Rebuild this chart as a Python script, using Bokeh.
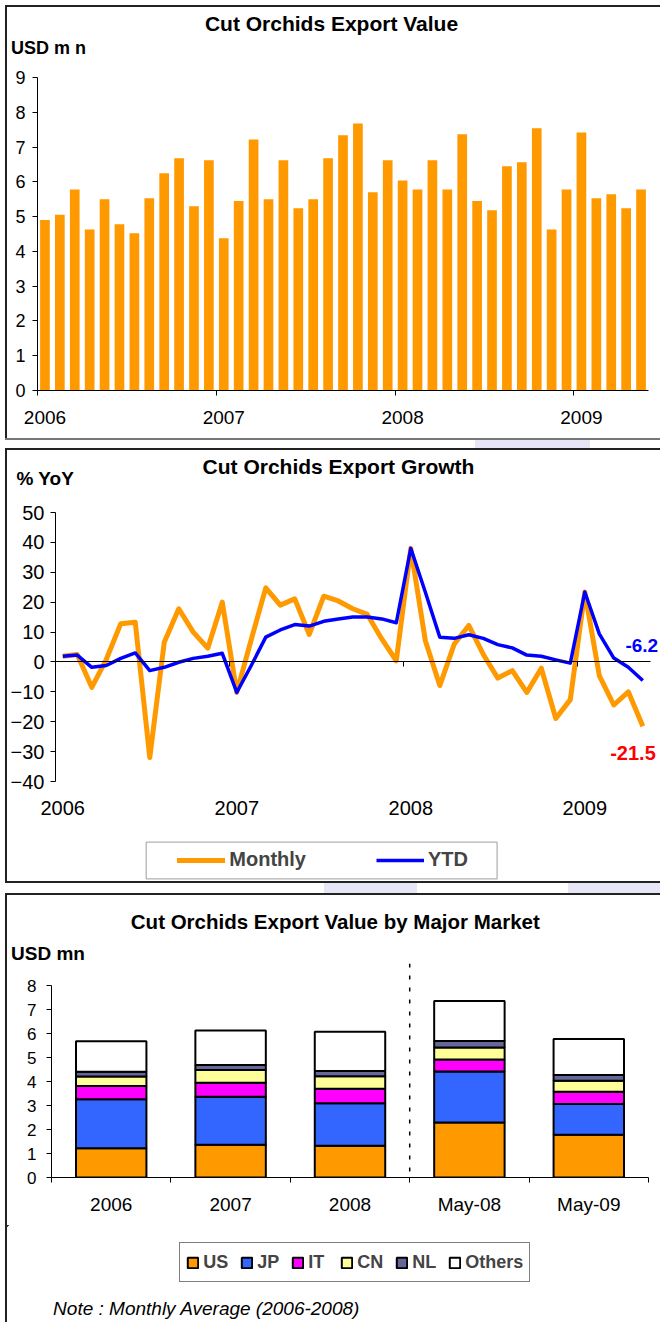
from bokeh.plotting import figure
from bokeh.layouts import column, row
from bokeh.models import (ColumnDataSource, LinearAxis, FixedTicker, SingleIntervalTicker,
                          Label, BoxAnnotation, Span, Legend, LegendItem, Range1d, Spacer)
from bokeh.embed import file_html
from bokeh.resources import INLINE

FONT = "Liberation Sans"
IW = 653          # inner width of every panel (inside the left border)

# ---------------- data ----------------
years = ["2006", "2007", "2008", "2009"]
months_per_year = [12, 12, 12, 5]

export_value = [4.90, 5.05, 5.78, 4.63, 5.50, 4.78, 4.52, 5.53, 6.25, 6.68, 5.30, 6.62,
                4.38, 5.45, 7.22, 5.50, 6.62, 5.24, 5.50, 6.68, 7.34, 7.68, 5.70, 6.62,
                6.04, 5.78, 6.62, 5.78, 7.37, 5.45, 5.18, 6.45, 6.56, 7.54, 4.63, 5.78,
                7.42, 5.53, 5.64, 5.24, 5.78]

growth_monthly = [1.9, 2.5, -8.5, 0.8, 12.8, 13.3, -32.0, 6.6, 17.8, 10.0, 4.6, 20.0,
                  -10.2, 7.5, 24.8, 19.0, 21.1, 9.2, 22.0, 20.4, 17.8, 15.9, 7.7, 0.4,
                  38.0, 7.2, -7.9, 6.0, 12.2, 2.5, -5.4, -2.9, -10.2, -2.1, -18.9, -12.6,
                  23.4, -4.6, -14.4, -10.0, -21.5]
growth_ytd = [1.9, 2.3, -1.8, -1.2, 1.2, 3.0, -2.9, -1.8, -0.1, 1.2, 1.9, 2.9,
              -10.2, -1.2, 8.3, 10.7, 12.5, 12.0, 13.6, 14.4, 15.0, 15.0, 14.4, 13.1,
              38.0, 23.4, 8.3, 7.9, 9.1, 7.9, 5.8, 4.7, 2.3, 1.9, 0.7, -0.4,
              23.4, 9.4, 1.3, -1.8, -6.2]

periods = ["2006", "2007", "2008", "May-08", "May-09"]
markets = ["US", "JP", "IT", "CN", "NL", "Others"]
us = [1.22, 1.37, 1.32, 2.30, 1.78]
jp = [2.05, 2.00, 1.78, 2.12, 1.29]
it = [0.55, 0.58, 0.60, 0.50, 0.51]
cn = [0.39, 0.54, 0.52, 0.50, 0.46]
nl = [0.20, 0.20, 0.22, 0.28, 0.24]
others = [1.28, 1.44, 1.64, 1.67, 1.50]
market_colors = ["#FF9900", "#3366FF", "#FF00FF", "#FFFF99", "#666699", "#FFFFFF"]

ORANGE = "#FF9900"
BLUE = "#0000FF"
WATERMARK = "#E6E6F6"

# derived positions
n_months = sum(months_per_year)
month_x = list(range(n_months))
jan_x = []
acc = 0
for m in months_per_year:
    jan_x.append(acc)
    acc += m
year_bounds = [j - 0.5 for j in jan_x]


# ---------------- helpers ----------------
def no_align(p):
    try:
        p.frame_align = False
    except Exception:
        pass


def text_fig(height):
    """A figure whose frame is the whole canvas; data units == pixels (y downward)."""
    p = figure(width=IW, height=height, x_range=Range1d(0, IW), y_range=Range1d(height, 0),
               x_axis_type=None, y_axis_type=None, toolbar_location=None,
               output_backend="svg", min_border=0)
    p.min_border_left = p.min_border_right = p.min_border_top = p.min_border_bottom = 0
    p.outline_line_color = None
    p.grid.visible = False
    p.background_fill_color = "white"
    p.border_fill_color = "white"
    no_align(p)
    return p


def label(p, x, y, s, size, color="black", style="bold", align="left"):
    p.add_layout(Label(x=x, y=y, text=s, text_font=FONT, text_font_size=size,
                       text_font_style=style, text_color=color, text_align=align,
                       text_baseline="middle"))


def chart_fig(height, x0, x1, y0, y1, left, right, top, bottom):
    p = figure(width=IW, height=height, x_range=Range1d(x0, x1), y_range=Range1d(y0, y1),
               x_axis_type=None, toolbar_location=None, output_backend="svg",
               min_border_left=left, min_border_right=right,
               min_border_top=top, min_border_bottom=bottom)
    p.outline_line_color = None
    p.ygrid.grid_line_color = None
    p.background_fill_color = "white"
    p.border_fill_color = "white"
    no_align(p)
    return p


def style_y(p, interval, size, standoff=10, bounds=None):
    ya = p.yaxis[0]
    ya.ticker = SingleIntervalTicker(interval=interval, num_minor_ticks=0)
    ya.major_tick_out = 5
    ya.major_tick_in = 0
    ya.minor_tick_line_color = None
    ya.axis_line_color = "black"
    ya.major_tick_line_color = "black"
    ya.major_label_text_font = FONT
    ya.major_label_text_font_size = size
    ya.major_label_text_color = "black"
    ya.major_label_standoff = standoff
    if bounds is not None:
        ya.bounds = bounds


def label_axis(p, label_ticks, labels, bound_ticks, standoff, size, line=True):
    ax = LinearAxis(ticker=FixedTicker(ticks=label_ticks,
                                       minor_ticks=bound_ticks if line else []),
                    major_label_overrides={t: l for t, l in zip(label_ticks, labels)},
                    axis_line_color="black" if line else None,
                    major_tick_line_color=None, major_tick_out=0, major_tick_in=0,
                    minor_tick_line_color="black" if line else None,
                    minor_tick_out=5, minor_tick_in=0,
                    major_label_standoff=standoff, major_label_text_font=FONT,
                    major_label_text_font_size=size, major_label_text_color="black")
    p.add_layout(ax, "below")


def border(w, h, color="#222222"):
    return Spacer(width=w, height=h, styles={"background-color": color})


def framed(content, h, bottom=True, bottom_color="#222222"):
    parts = [row(Spacer(width=5, height=2), border(655, 2)),
             row(Spacer(width=5, height=h), border(2, h), content)]
    if bottom:
        parts.append(row(Spacer(width=5, height=2), border(655, 2, bottom_color)))
    return parts


def gap(h, spans):
    """Gap row between panels, showing bits of the faint background watermark."""
    kids, x = [], 0
    for a, b in spans:
        kids.append(Spacer(width=a - x, height=h))
        kids.append(border(b - a, h, WATERMARK))
        x = b
    if x < 660:
        kids.append(Spacer(width=660 - x, height=h))
    return row(*kids)


# ---------------- panel 1 ----------------
h1 = text_fig(55)
label(h1, 324, 16, "Cut Orchids Export Value", "21px", align="center")
label(h1, 3.5, 40.5, "USD m n", "18px")

c1 = chart_fig(376, -0.5, n_months - 0.5, 0, 9, 30, 12, 15, 48)
c1.vbar(x=month_x, top=export_value, width=0.65, color=ORANGE, line_color=None)
style_y(c1, 1, "18px", standoff=7)
label_axis(c1, jan_x, years, year_bounds, 15, "19px")

# ---------------- panel 2 ----------------
h2 = text_fig(50)
label(h2, 331, 16, "Cut Orchids Export Growth", "21px", align="center")
label(h2, 9, 28, "% YoY", "19px")

c2 = chart_fig(335, -0.5, 41.22, -40, 50, 48, 0, 12, 54)
c2.line(month_x, growth_monthly, line_color=ORANGE, line_width=5, line_join="round")
c2.line(month_x, growth_ytd, line_color=BLUE, line_width=3.5, line_join="round")
style_y(c2, 10, "20px", standoff=6)
label_axis(c2, jan_x, years, year_bounds, 19, "20px", line=False)
zero_axis = LinearAxis(ticker=FixedTicker(ticks=year_bounds), fixed_location=0,
                       bounds=(-0.5, n_months - 0.5),
                       major_tick_out=5, major_tick_in=0, minor_tick_line_color=None,
                       major_label_text_font_size="0px", major_label_standoff=0,
                       major_label_overrides={t: "" for t in year_bounds},
                       axis_line_color="black", major_tick_line_color="black")
c2.add_layout(zero_axis, "below")
c2.add_layout(Label(x=38.8, y=5.5, text=f"{growth_ytd[-1]:.1f}", text_font=FONT,
                    text_font_size="19px", text_font_style="bold", text_color=BLUE,
                    text_baseline="middle"))
c2.add_layout(Label(x=37.75, y=-30.3, text=f"{growth_monthly[-1]:.1f}", text_font=FONT,
                    text_font_size="20px", text_font_style="bold", text_color="#FF0000",
                    text_baseline="middle"))

l2 = text_fig(46)
# legend proxies (kept outside the visible frame)
lm = l2.line(x=[-30, -20], y=[-30, -30], line_color=ORANGE, line_width=5, line_cap="round")
ly = l2.line(x=[-30, -20], y=[-30, -30], line_color=BLUE, line_width=3.5)
l2.add_layout(BoxAnnotation(left=138.7, right=489.6, top=6.7, bottom=43.3,
                            fill_color=None, fill_alpha=0, line_color="black",
                            line_width=1.3))
l2.add_layout(Legend(items=[LegendItem(label="Monthly", renderers=[lm]),
                            LegendItem(label="YTD", renderers=[ly])],
                     orientation="horizontal", location=(170.3, 10), margin=0, padding=0,
                     spacing=70, glyph_width=48, glyph_height=20, label_standoff=4,
                     label_height=21, border_line_color=None, background_fill_alpha=0,
                     label_text_font=FONT, label_text_font_size="20px",
                     label_text_font_style="bold"))

# ---------------- panel 3 ----------------
h3 = text_fig(68)
label(h3, 327.8, 26, "Cut Orchids Export Value by Major Market", "20.5px", align="center")
label(h3, 3.5, 58, "USD mn", "19px")

src = ColumnDataSource(dict(x=list(range(len(periods))), US=us, JP=jp, IT=it, CN=cn,
                            NL=nl, Others=others))
c3 = chart_fig(262, -0.5, len(periods) - 0.5, 0, 8.93, 44, 12, 0, 48)
c3.vbar_stack(markets, x="x", width=0.59, source=src, fill_color=market_colors,
              line_color="black", line_width=2)
style_y(c3, 1, "17px", standoff=10, bounds=(0, 8))
label_axis(c3, list(range(len(periods))), periods,
           [i - 0.5 for i in range(len(periods) + 1)], 11, "19px")
c3.add_layout(Span(location=periods.index("May-08") - 0.5, dimension="height",
                   line_color="black", line_width=1.5, line_dash="4 8"))

l3 = text_fig(97)
dummies = [l3.vbar(x=[-30], top=[-30], bottom=[-40], width=5, fill_color=c,
                   line_color="black", line_width=2)
           for c in market_colors]
l3.add_layout(Legend(items=[LegendItem(label=m, renderers=[r]) for m, r in zip(markets, dummies)],
                     orientation="horizontal", location=(172.3, 40), margin=0, padding=6,
                     spacing=12, glyph_width=13, glyph_height=13, label_standoff=4,
                     label_height=26, border_line_color="black", border_line_width=1.5,
                     background_fill_color="white",
                     label_text_font=FONT, label_text_font_size="18px",
                     label_text_font_style="bold"))
label(l3, 45.6, 82.5, "Note : Monthly Average (2006-2008)", "19px", style="italic")

# ---------------- page ----------------
items = [Spacer(width=660, height=5)]
items += framed(column(h1, c1), 431, bottom_color="#777777")
items += [gap(8, [(475, 590)])]
items += framed(column(h2, c2, l2), 431)
items += [gap(10, [(324, 417), (568, 660)])]
items += framed(column(h3, c3, l3), 427, bottom=False)
layout = column(*items)

open("out.html", "w").write(file_html(layout, INLINE))
